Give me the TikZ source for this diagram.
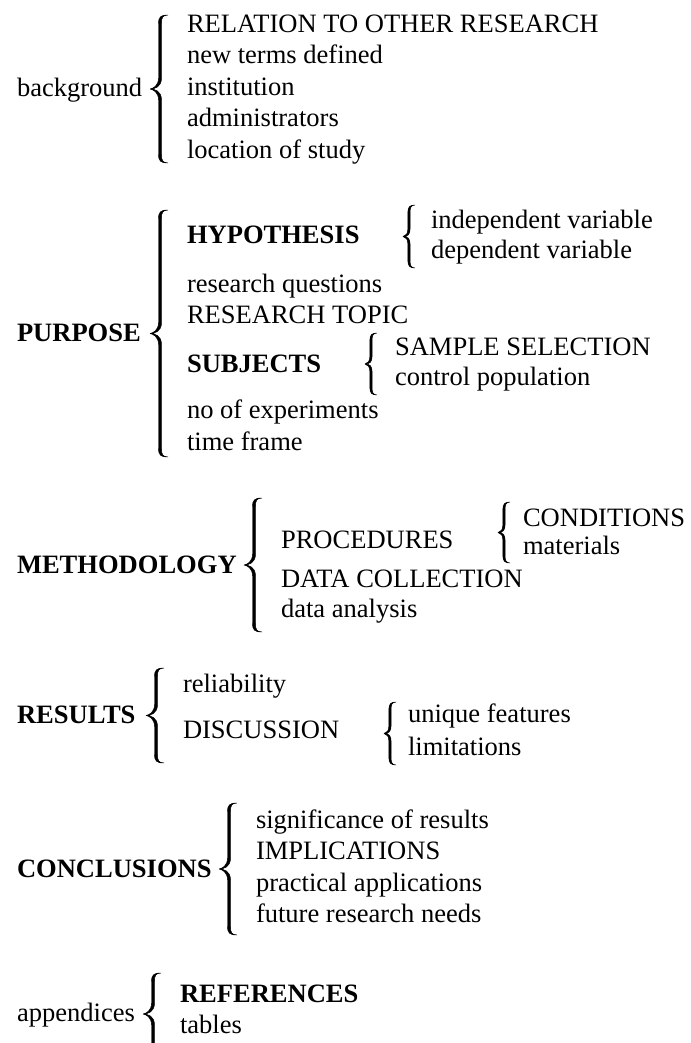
\documentclass[tikz,border=0pt]{standalone}
\usepackage{fontspec}
\setmainfont{Liberation Serif}

% Tapered curly brace, filled between a left and a right edge.
% #1 tip x, #2 top, #3 bottom, #4 tip-to-bar distance, #5 bar-to-hook distance,
% #6 hook depth, #7 neck depth, #8 half stroke width at the bar
\newcommand{\curlybrace}[8]{%
  \pgfmathsetmacro{\bm}{(#2+#3)/2}%
  \pgfmathsetmacro{\bl}{#1+#4-#8}%
  \pgfmathsetmacro{\br}{#1+#4+#8}%
  \pgfmathsetmacro{\hx}{#1+#4+#5}%
  \fill[brace line]
    (\hx,#2) .. controls ({\bl+2},#2) and (\bl,{#2+2}) .. (\bl,{#2+#6})
    -- (\bl,{\bm-#7}) .. controls (\bl,{\bm-3}) and ({#1+3},{\bm-0.5}) .. (#1,\bm)
    .. controls ({#1+3},{\bm+0.5}) and (\bl,{\bm+3}) .. (\bl,{\bm+#7})
    -- (\bl,{#3-#6}) .. controls (\bl,{#3-2}) and ({\bl+2},#3) .. (\hx,#3)
    .. controls ({\br+1},{#3-0.5}) and (\br,{#3-2}) .. (\br,{#3-#6})
    -- (\br,{\bm+#7}) .. controls (\br,{\bm+2}) and ({#1+5},\bm) .. (#1,\bm)
    .. controls ({#1+5},\bm) and (\br,{\bm-2}) .. (\br,{\bm-#7})
    -- (\br,{#2+#6}) .. controls (\br,{#2+2}) and ({\br+1},{#2+0.5}) .. (\hx,#2)
    -- cycle;}
\newcommand{\bigbrace}[3]{\curlybrace{#1}{#2}{#3}{10}{8}{9}{11}{1.5}}
\newcommand{\subbrace}[3]{\curlybrace{#1}{#2}{#3}{6}{6}{7}{8}{1.1}}

\begin{document}
\begin{tikzpicture}[x=0.75pt,y=-0.75pt,
  every node/.style={anchor=base west,inner sep=0pt,outer sep=0pt,
    font=\fontsize{19.9}{24}\selectfont},
  head/.style={font=\fontsize{19.9}{24}\selectfont\bfseries},
  brace line/.style={draw=black,fill=black,line width=0.35pt,line join=round}]
\useasboundingbox (0,0) rectangle (691,1043);
\clip (0,0) rectangle (691,1043);

% background
\node (bg) at (17,96) {background};
\bigbrace{150}{15}{163}
\node (bg1) at (187,32) {RELATION TO OTHER RESEARCH};
\node (bg2) at (187,63.5) {new terms defined};
\node (bg3) at (187,95) {institution};
\node (bg4) at (187,126.5) {administrators};
\node (bg5) at (187,158) {location of study};

% purpose
\node[head] (pu) at (17,341) {PURPOSE};
\bigbrace{150}{210}{457}
\node[head] (hyp) at (187,243) {HYPOTHESIS};
\subbrace{403}{205}{268}
\node (hyp1) at (431,228) {independent variable};
\node (hyp2) at (431,258) {dependent variable};
\node (pu2) at (187,292) {research questions};
\node (pu3) at (187,323) {RESEARCH TOPIC};
\node[head] (sub) at (187,372) {SUBJECTS};
\subbrace{365}{333}{395}
\node (sub1) at (395,355) {SAMPLE SELECTION};
\node (sub2) at (395,385) {control population};
\node (pu5) at (187,418) {no of experiments};
\node (pu6) at (187,450) {time frame};

% methodology
\node[head] (me) at (17,573) {METHODOLOGY};
\bigbrace{244}{498}{632}
\node (pro) at (281,548) {PROCEDURES};
\subbrace{498}{502}{563}
\node (pro1) at (523,526) {CONDITIONS};
\node (pro2) at (523,554) {materials};
\node (me2) at (281,587) {DATA COLLECTION};
\node (me3) at (281,617) {data analysis};

% results
\node[head] (re) at (17,723) {RESULTS};
\bigbrace{146}{668}{763}
\node (re1) at (183,692) {reliability};
\node (dis) at (183,738) {DISCUSSION};
\subbrace{384}{702}{765}
\node (dis1) at (408,722) {unique features};
\node (dis2) at (408,755) {limitations};

% conclusions
\node[head] (co) at (17,877) {CONCLUSIONS};
\bigbrace{219}{803}{935}
\node (co1) at (256,828) {significance of results};
\node (co2) at (256,859) {IMPLICATIONS};
\node (co3) at (256,891) {practical applications};
\node (co4) at (256,922) {future research needs};

% appendices
\node (ap) at (17,1021) {appendices};
\bigbrace{143}{973}{1055}
\node[head] (ap1) at (180,1002) {REFERENCES};
\node (ap2) at (180,1033) {tables};
\end{tikzpicture}
\end{document}
